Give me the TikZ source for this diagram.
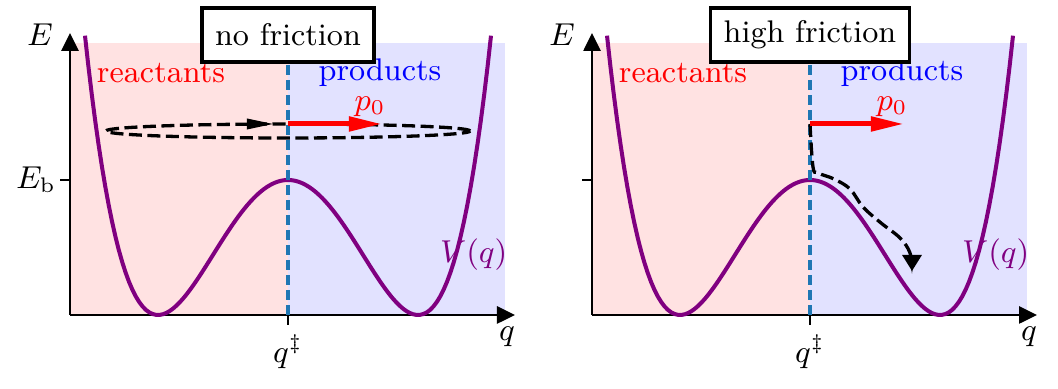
\documentclass[tikz,border=0pt]{standalone}
\usepackage{amsmath}
\usepackage{tikz}
\usetikzlibrary{positioning, arrows.meta}
\definecolor{wellpurple}{HTML}{800080}
\definecolor{tsblue}{HTML}{1F77B4}
\definecolor{reacfill}{HTML}{FFE2E2}
\definecolor{prodfill}{HTML}{E2E2FF}
\begin{document}
\begin{tikzpicture}[
  x=0.01cm, y=0.01cm,
  font=\fontsize{8.9}{10.6}\selectfont,
  ax/.style={line width=0.75pt, -{Triangle[length=0.18cm, width=0.17cm]}},
  tk/.style={line width=0.75pt},
  well/.style={wellpurple, line width=0.04cm},
  ts/.style={tsblue, line width=0.035cm, dash pattern=on 0.1cm off 0.05cm},
  traj/.style={black, line width=0.033cm, dash pattern=on 0.13cm off 0.055cm},
  mom/.style={red, line width=0.05cm, -{Triangle[length=0.33cm, width=0.14cm]}},
  ttl/.style={draw, line width=1pt, fill=white, inner xsep=0.13cm, minimum height=0.54cm}
]
\useasboundingbox (-70,-74) rectangle (988,315);
% both panels: regions, axes, potential
\foreach \p/\s in {L/0, R/522} {
  \begin{scope}[shift={(\s,0)}]
  \fill[reacfill] (0,0) rectangle (218,272);
  \fill[prodfill] (218,0) rectangle (435,272);
  \coordinate (o\p) at (0,0);
  \coordinate (ye\p) at (0,282);
  \coordinate (xe\p) at (445,0);
  \coordinate (ts\p) at (218,0);
  \coordinate (tt\p) at (218,272);
  \coordinate (eb\p) at (0,135);
  \coordinate (s\p) at (218,191);
  \draw[tk] (eb\p) -- ++(-10,0);
  \draw[tk] (ts\p) -- ++(0,-10);
  \draw[ax] (o\p) -- (ye\p);
  \draw[ax] (o\p) -- (xe\p);
  \draw[well] plot[domain=15:421, samples=121] (\x, {135*(1-((\x-218)/130)^2)^2});
  \draw[ts] (ts\p) -- (tt\p);
  \node (E\p) at (-30,280) {$E$};
  \node (q\p) at (437,-22) {$q$};
  \node (qd\p) at (218,-37) {$q^{\ddagger}$};
  \node[red] (re\p) at (91,242) {reactants};
  \node[blue] (pr\p) at (310,242) {products};
  \node[wellpurple, anchor=east, inner sep=0pt] (V\p) at (438,60) {$V(q)$};
  \end{scope}
}
\node (Eb) at (-34,135) {$E_{\mathrm{b}}$};
% no friction: oscillation over the barrier
\coordinate (c) at (218,184);
\draw[traj] (c) ellipse [x radius=1.82cm, y radius=0.07cm];
\coordinate (ma) at (180,191);
\coordinate (mb) at (204,191);
\draw[traj, -{Triangle[length=0.27cm, width=0.1cm]}] (ma) -- (mb);
% high friction: damped descent
\draw[traj, -{Triangle[length=0.16cm, width=0.19cm]}] plot[smooth, tension=0.6] coordinates
  {(sR) (743,148) (748,142) (764,136) (780,126) (793,108) (811,92) (830,77) (840,62) (842,44)};
% momentum and titles
\foreach \p/\s/\ttl in {L/0/no friction, R/522/high friction} {
  \begin{scope}[shift={(\s,0)}]
  \coordinate (pe\p) at (312,191);
  \draw[mom] (s\p) -- (pe\p);
  \node[red] (p0\p) at (300,208) {$p_0$};
  \node[ttl] (t\p) at (218,280) {\ttl};
  \end{scope}
}
\end{tikzpicture}
\end{document}
